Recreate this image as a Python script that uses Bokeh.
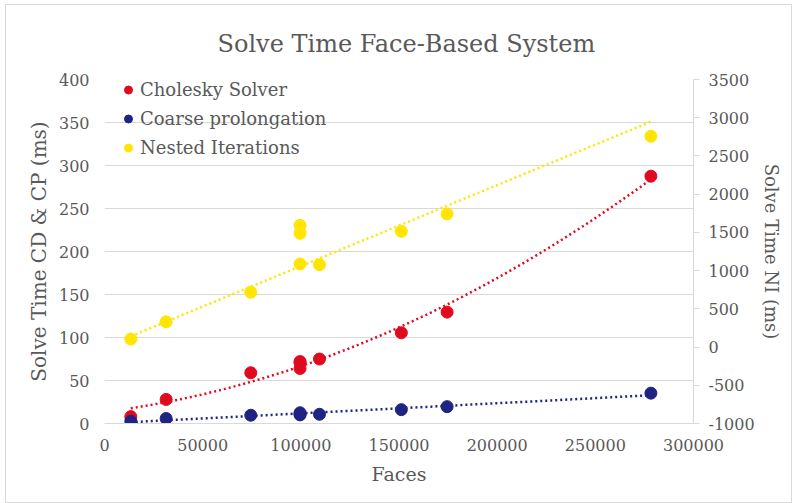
import numpy as np
from bokeh.plotting import figure
from bokeh.models import (Range1d, LinearAxis, FixedTicker, PrintfTickFormatter,
                          Legend, LegendItem)
from bokeh.embed import file_html
from bokeh.resources import INLINE

# ---- data ----
faces = [13400, 31400, 74500, 99600, 99600, 99600, 109500, 151200, 174500, 278300]
cholesky = [8, 28, 59, 72, 64, 71, 75, 105.5, 129.5, 287.6]
coarse = [2.6, 5.8, 9.6, 12.5, 10, 11, 10.7, 16.1, 19.6, 35.3]
nested = [105, 330, 718, 1592, 1488, 1087, 1077, 1514, 1742, 2758]

x_ticks = [0, 50000, 100000, 150000, 200000, 250000, 300000]
left_ticks = [0, 50, 100, 150, 200, 250, 300, 350, 400]
right_ticks = [-1000, -500, 0, 500, 1000, 1500, 2000, 2500, 3000, 3500]

RED = "#DF0A1E"
BLUE = "#1F2483"
YELLOW = "#FFE500"
TXT = "#595959"
GRID = "#d9d9d9"
FONT = "DejaVu Serif"

p = figure(width=785, height=497, output_backend="svg", toolbar_location=None,
           x_range=Range1d(0, 300000), y_range=Range1d(0, 400),
           min_border_left=98, min_border_right=98, min_border_top=71, min_border_bottom=79,
           title="Solve Time Face-Based System")
p.styles = {"margin-left": "6px", "margin-top": "5px",
            "outline": "1px solid #d9d9d9"}
p.outline_line_color = None
p.background_fill_color = "white"
p.border_fill_color = "white"

p.title.align = "left"
p.title.offset = 113
p.title.text_font = FONT
p.title.text_font_size = "24px"
p.title.text_font_style = "normal"
p.title.text_color = TXT
p.title.standoff = 44

p.extra_y_ranges = {"ni": Range1d(-1000, 3500)}

# axes
xa = p.xaxis[0]
xa.ticker = FixedTicker(ticks=x_ticks)
xa.formatter = PrintfTickFormatter(format="%d")
xa.axis_label = "Faces"
xa.axis_line_color = GRID
xa.major_tick_line_color = None
xa.minor_tick_line_color = None

ya = p.yaxis[0]
ya.ticker = FixedTicker(ticks=left_ticks)
ya.formatter = PrintfTickFormatter(format="%d")
ya.axis_label = "Solve Time CD & CP (ms)"
ya.axis_line_color = None
ya.major_tick_line_color = None
ya.minor_tick_line_color = None

ra = LinearAxis(y_range_name="ni", ticker=FixedTicker(ticks=right_ticks),
                formatter=PrintfTickFormatter(format="%d"),
                axis_label="Solve Time NI (ms)")
ra.axis_line_color = GRID
ra.major_tick_line_color = GRID
ra.major_tick_out = 6
ra.major_tick_in = 0
ra.minor_tick_line_color = None
p.add_layout(ra, "right")

for ax in (xa, ya, ra):
    ax.major_label_text_font = FONT
    ax.major_label_text_font_size = "16px"
    ax.major_label_text_color = TXT
    ax.axis_label_text_font = FONT
    ax.axis_label_text_font_size = "18px"
    ax.axis_label_text_font_style = "normal"
    ax.axis_label_text_color = TXT
ya.axis_label_text_font_size = "20px"
xa.axis_label_text_font_size = "19px"
xa.major_label_standoff = 9
xa.axis_label_standoff = 9
ya.major_label_standoff = 9
ya.axis_label_standoff = 5
ra.major_label_standoff = 9
ra.axis_label_standoff = 3

p.xgrid.grid_line_color = None
p.ygrid.grid_line_color = GRID
p.ygrid.ticker = FixedTicker(ticks=left_ticks)

# trendlines (quadratic for Cholesky, linear for Coarse, linear through origin for NI)
fx = np.array(faces, dtype=float)
xs = np.linspace(fx.min(), fx.max(), 200)
c2 = np.polyfit(fx, cholesky, 2)
c1 = np.polyfit(fx, coarse, 1)
ny = np.array(nested, dtype=float)
n_slope = float(np.sum(fx * ny) / np.sum(fx * fx))
p.line(xs, np.polyval(c2, xs), line_color=RED, line_width=2.5, line_dash="2 3")
p.line(xs, np.polyval(c1, xs), line_color=BLUE, line_width=2.5, line_dash="2 3")
p.line(xs, n_slope * xs, line_color=YELLOW, line_width=2.5, line_dash="2 3", y_range_name="ni")

# points
r_red = p.scatter(faces, cholesky, size=12, color=RED)
r_blue = p.scatter(faces, coarse, size=12, color=BLUE)
r_yel = p.scatter(faces, nested, size=12, color=YELLOW, y_range_name="ni")

legend = Legend(items=[LegendItem(label="Cholesky Solver", renderers=[r_red]),
                       LegendItem(label="Coarse prolongation", renderers=[r_blue]),
                       LegendItem(label="Nested Iterations", renderers=[r_yel])],
                location=(14, 265))
legend.margin = 0
legend.padding = 0
legend.spacing = 8
legend.glyph_width = 20
legend.glyph_height = 21
legend.label_height = 21
legend.label_standoff = 2
legend.label_text_font = FONT
legend.label_text_font_size = "18px"
legend.label_text_color = TXT
legend.background_fill_alpha = 0
legend.border_line_color = None
p.add_layout(legend, "center")

open("out.html", "w").write(file_html(p, INLINE))
